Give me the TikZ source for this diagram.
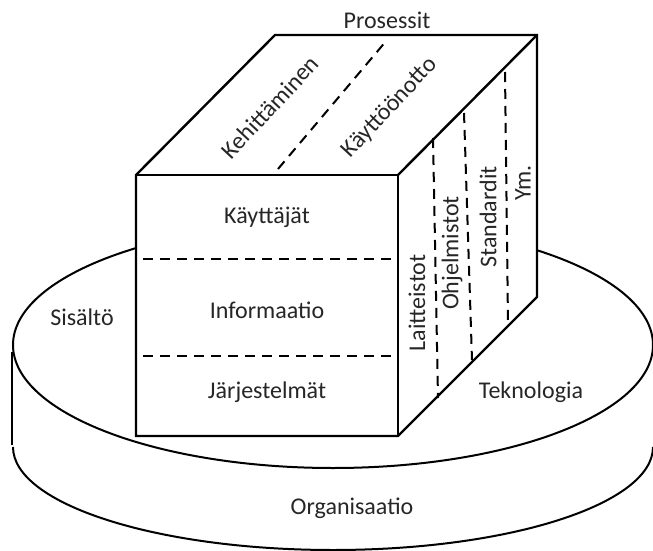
\documentclass[tikz,border=0pt]{standalone}
\usepackage{fontspec}
\setmainfont{Carlito}
\usepackage{xcolor}
\usetikzlibrary{calc}
\definecolor{ink}{HTML}{000000}
\definecolor{label}{HTML}{262626}

\begin{document}
\begin{tikzpicture}[
  x=1pt, y=-1pt,
  every node/.style={font=\fontsize{24}{28}\selectfont, color=label, inner sep=1pt},
  edge/.style={draw=ink, line width=2.4pt, line join=miter},
  rim/.style={draw=ink, line width=2pt},
  divider/.style={draw=ink, line width=2pt, dash pattern=on 10pt off 7pt},
  uptext/.style={rotate=90},
  slanttext/.style={rotate=47}
]
\useasboundingbox (0,0) rectangle (653,551);

% --- Disc (cylinder) ---
\draw[rim] (333,345) ellipse [x radius=320, y radius=123];
\draw[rim] (13,447) arc [start angle=180, end angle=0, x radius=320, y radius=103];
\draw[rim] (12,352) -- (12,445);

% --- Cube corners ---
\coordinate (ftl) at (136,175);
\coordinate (ftr) at (398,175);
\coordinate (fbr) at (398,436);
\coordinate (fbl) at (136,436);
\coordinate (btl) at (275,35);
\coordinate (btr) at (537,35);
\coordinate (bbr) at (537,297);

% --- Cube faces ---
\fill[white] (fbl) -- (ftl) -- (btl) -- (btr) -- (bbr) -- (fbr) -- cycle;
\draw[edge] (fbl) -- (ftl) -- (btl) -- (btr) -- (bbr) -- (fbr) -- cycle;
\draw[edge] (ftl) -- (ftr) -- (fbr);
\draw[edge] (ftr) -- (btr);

% --- Dividers ---
\draw[divider] (278,169) -- (387,40);
\draw[divider] (143,259) -- (398,259);
\draw[divider] (143,356) -- (398,356);
\draw[divider] (433,138) -- (438,398);
\draw[divider] (464,113) -- (472,360);
\draw[divider] (505,72) -- (508,323);

% --- Top face (processes) ---
\node (proc) at (387,20) {Prosessit};
\node[slanttext] (dev) at (270,107) {Kehittäminen};
\node[slanttext] (depl) at (390,108) {Käyttöönotto};

% --- Front face (content) ---
\node (users) at (267,217) {Käyttäjät};
\node (info) at (267,310) {Informaatio};
\node (sys) at (267,392) {Järjestelmät};

% --- Right face (technology) ---
\node[uptext] (hw) at (417,303) {Laitteistot};
\node[uptext] (sw) at (452,253) {Ohjelmistot};
\node[uptext] (std) at (488,217) {Standardit};
\node[uptext] (etc) at (523,183) {Ym.};

% --- Disc labels ---
\node (content) at (82,317) {Sisältö};
\node (tech) at (531,392) {Teknologia};
\node (org) at (352,508) {Organisaatio};

\end{tikzpicture}
\end{document}
